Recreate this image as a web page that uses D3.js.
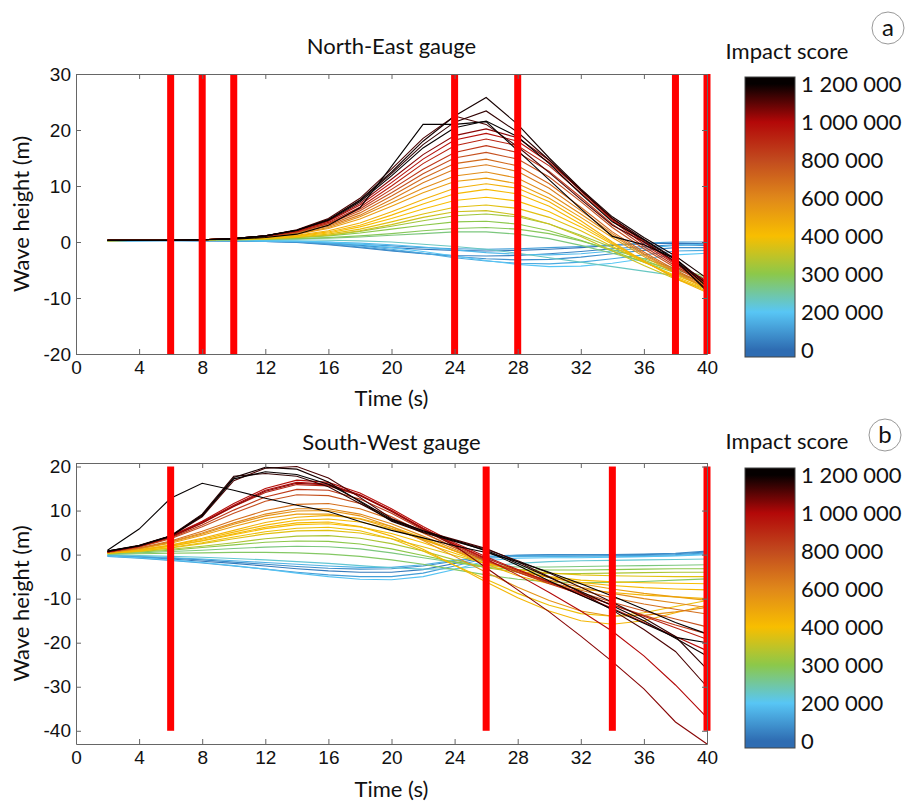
<!DOCTYPE html>
<html>
<head>
<meta charset="utf-8">
<script src="https://cdn.jsdelivr.net/npm/d3@7"></script>
<style>
  body { margin: 0; background: #fff; }
  svg { font-family: Lato, "Open Sans", sans-serif; }
  .axis path, .axis line { stroke: #666; }
  .axis text { fill: #111; font-size: 19px; }
</style>
</head>
<body>
<div id="chart"></div>
<script>
// time samples (s) shared by every simulated run
var times = [2,4,6,8,10,12,14,16,18,20,22,24,26,28,30,32,34,36,38,40];
var xTicks = [0,4,8,12,16,20,24,28,32,36,40];

// North-East gauge
var neTicks = [-20,-10,0,10,20,30];
var neRedBars = [6,8,10,24,28,38,40];
var neScores = [20000,50000,80000,110000,140000,170000,200000,230000,
                270000,290000,300000,320000,360000,380000,400000,420000,450000,
                520000,580000,640000,700000,780000,860000,920000,980000,1050000,
                1120000,1150000,1180000,1200000,1200000];
var neSeries = [
  [0.3,0.3,0.3,0.3,0.2,0.1,0,-0.3,-0.6,-1,-1.3,-1.5,-1.6,-1.5,-1.3,-1,-0.6,-0.3,-0.2,-0.3],
  [0.2,0.3,0.3,0.2,0.2,0.1,-0.1,-0.5,-1,-1.6,-2.1,-2.4,-2.5,-2.4,-2.1,-1.7,-1.2,-0.8,-0.5,-0.6],
  [0.4,0.4,0.4,0.4,0.3,0.2,0,-0.4,-0.9,-1.5,-2,-2.6,-3,-3.2,-3.1,-2.7,-2.1,-1.5,-1,-1],
  [0.1,0.2,0.2,0.2,0.2,0.1,0,-0.2,-0.4,-0.7,-1,-1.2,-1.3,-1.2,-1,-0.8,-0.5,-0.2,0,0],
  [0.3,0.3,0.4,0.4,0.3,0.2,0.1,-0.2,-0.7,-1.3,-2,-2.8,-3.4,-3.8,-3.9,-3.6,-3,-2.3,-1.6,-1.5],
  [0.2,0.2,0.3,0.3,0.2,0.2,0.1,0,-0.2,-0.5,-0.9,-1.4,-1.9,-2.2,-2.3,-2.1,-1.6,-1.1,-0.6,-0.4],
  [0.2,0.3,0.3,0.3,0.3,0.2,0.2,0,-0.4,-1,-1.7,-2.5,-3.3,-4,-4.4,-4.3,-3.8,-3,-2.3,-2],
  [0.3,0.3,0.3,0.4,0.4,0.4,0.4,0.3,0.2,0,-0.4,-0.8,-1.3,-2,-2.8,-3.6,-4.4,-5.2,-6,-6.8],
  [0.3,0.3,0.4,0.4,0.4,0.5,0.6,0.7,0.9,1.2,1.5,1.8,1.8,1.4,0.6,-0.6,-2,-3.5,-5,-6.5],
  [0.3,0.3,0.3,0.3,0.4,0.5,0.6,0.8,1.1,1.5,2,2.4,2.6,2.3,1.5,0.2,-1.4,-3,-4.7,-6.2],
  [0.3,0.3,0.3,0.4,0.5,0.6,0.8,1.1,1.6,2.3,3,3.6,3.7,3.2,2,0.3,-1.6,-3.6,-5.5,-7.2],
  [0.2,0.3,0.3,0.4,0.5,0.6,0.8,1.2,1.9,2.8,3.8,4.7,5,4.5,3.2,1.2,-1,-3.2,-5.3,-7.5],
  [0.3,0.3,0.3,0.4,0.4,0.5,0.8,1.2,2,3.1,4.4,5.4,5.6,4.8,3.2,1,-1.6,-4.2,-6.6,-8.5],
  [0.3,0.3,0.3,0.4,0.5,0.6,0.9,1.4,2.3,3.6,5,6.2,6.6,6,4.4,2,-0.8,-3.6,-6,-8],
  [0.3,0.3,0.3,0.4,0.5,0.7,1,1.6,2.7,4.2,5.9,7.4,8,7.3,5.4,2.7,-0.4,-3.5,-6.2,-8.4],
  [0.2,0.3,0.3,0.4,0.5,0.7,1.1,1.8,3,4.8,6.8,8.6,9.4,8.6,6.4,3.2,-0.2,-3.5,-6.4,-8.8],
  [0.3,0.3,0.3,0.4,0.6,0.8,1.2,2,3.4,5.4,7.6,9.6,10.4,9.6,7.2,3.8,0,-3.4,-6.5,-9],
  [0.3,0.3,0.3,0.4,0.6,0.9,1.4,2.4,4.1,6.4,8.8,10.8,11.4,10.4,7.8,4.4,0.8,-2.6,-5.6,-8.4],
  [0.3,0.3,0.3,0.4,0.6,0.9,1.5,2.6,4.5,7,9.6,11.8,12.5,11.4,8.6,5,1.2,-2.3,-5.4,-8.2],
  [0.3,0.3,0.3,0.4,0.6,1,1.6,2.8,4.8,7.6,10.6,13,13.8,12.6,9.6,5.6,1.5,-2.1,-5.2,-8],
  [0.3,0.3,0.3,0.4,0.6,1,1.7,3,5.2,8.2,11.4,14,14.8,13.6,10.4,6.2,1.8,-1.8,-5,-7.8],
  [0.3,0.3,0.3,0.4,0.6,1,1.8,3.2,5.6,8.8,12.2,15,16,14.8,11.6,7.2,2.6,-1.2,-4.6,-7.6],
  [0.3,0.3,0.3,0.4,0.6,1,1.8,3.3,5.9,9.4,13,16,17.2,16,12.6,8,3.2,-0.8,-4.3,-7.5],
  [0.3,0.3,0.3,0.4,0.6,1,1.9,3.5,6.2,10,14,17.2,18.4,17.2,13.6,8.8,3.8,-0.4,-4,-7.4],
  [0.3,0.3,0.3,0.4,0.6,1.1,2,3.7,6.6,10.6,14.8,18.2,19.4,18,14.2,9.2,4,0,-3.8,-7.2],
  [0.3,0.3,0.3,0.4,0.6,1.1,2,3.8,6.9,11.2,15.6,19,20.2,18.6,14.6,9.4,4.2,0.2,-3.6,-7],
  [0.3,0.3,0.3,0.4,0.6,1.1,2.2,4.2,7.8,13,18.5,22.5,21,17,12.4,7.6,3,0,-3.5,-8.5],
  [0.3,0.3,0.3,0.4,0.6,1.1,2.1,4,7.4,12.2,17.4,21.4,23.4,19.6,14.6,9.2,4.2,0.5,-3,-7.5],
  [0.3,0.3,0.3,0.4,0.6,1.1,2.1,4,7.5,12.5,18,22.5,25.8,21,15,9.5,4.5,0.8,-2.5,-6.5],
  [0.3,0.3,0.3,0.4,0.6,1.1,2.1,3.9,7.2,11.8,16.8,20.4,21.6,18.8,14,8.6,3.6,0.4,-3.2,-8.8],
  [0.3,0.3,0.3,0.4,0.5,0.8,1.4,3,6.1,13.5,21,21,21.5,16.3,11.1,5.9,1,-0.5,-3,-8]
];

// South-West gauge
var swTicks = [-40,-30,-20,-10,0,10,20];
var swRedBars = [6,26,34,40];
var swScores = [30000,70000,110000,150000,190000,220000,
                270000,285000,300000,330000,380000,390000,400000,420000,430000,440000,
                520000,560000,600000,680000,780000,850000,920000,980000,1000000,1050000,
                1120000,1150000,1180000,1200000,1200000];
var swSeries = [
  [-0.3,-0.6,-1,-1.5,-2,-2.6,-3.2,-3.7,-4,-4,-3.4,-2,-0.6,-0.2,-0.1,-0.1,0,0,0.2,0.6],
  [-0.2,-0.5,-0.8,-1.2,-1.7,-2.2,-2.7,-3.1,-3.3,-3.2,-2.6,-1.5,-0.4,-0.1,0,0,0,0.1,0.3,0.8],
  [-0.4,-0.8,-1.3,-1.9,-2.6,-3.3,-4,-4.6,-5,-5,-4.2,-2.6,-0.9,-0.4,-0.3,-0.3,-0.2,-0.2,0,0.4],
  [-0.1,-0.4,-0.7,-1,-1.4,-1.8,-2.2,-2.6,-2.9,-2.9,-2.3,-1.3,-0.5,-0.3,-0.4,-0.5,-0.5,-0.4,-0.2,0.2],
  [-0.3,-0.7,-1.2,-1.8,-2.5,-3.3,-4.2,-5,-5.6,-5.7,-5,-3.4,-1.4,-0.8,-0.7,-0.7,-0.6,-0.5,-0.3,0],
  [0,-0.2,-0.4,-0.6,-0.9,-1.2,-1.6,-2,-2.5,-3,-3.3,-3.2,-2.6,-2,-1.6,-1.4,-1.3,-1.2,-1.1,-1],
  [0.2,0.4,0.7,1,1.4,1.7,1.9,1.8,1.3,0.4,-0.7,-1.8,-2.5,-2.8,-2.8,-2.7,-2.6,-2.5,-2.4,-2.3],
  [0.1,0.2,0.3,0.4,0.5,0.5,0.4,0.1,-0.4,-1.2,-2.2,-3.4,-4.6,-5.6,-6.2,-6.4,-6.3,-6.1,-5.8,-5.5],
  [0.3,0.6,1,1.6,2.2,2.8,3.1,3,2.4,1.3,-0.2,-1.7,-2.9,-3.4,-3.5,-3.5,-3.4,-3.3,-3.2,-3.2],
  [0.3,0.7,1.2,1.9,2.7,3.6,4.2,4.3,3.7,2.5,0.8,-1.2,-3,-4,-4.3,-4.3,-4.2,-4.1,-4,-4],
  [0.3,0.8,1.5,2.5,3.6,4.7,5.4,5.5,4.9,3.6,1.8,-0.2,-2,-3.4,-4.2,-4.6,-4.8,-4.9,-5,-5],
  [0.3,0.8,1.6,2.7,4,5.2,6,6.2,5.4,3.6,0.8,-2.4,-5.6,-8.8,-11.5,-13.4,-14,-13.2,-11.8,-10.4],
  [0.4,1,1.9,3.1,4.5,5.9,6.8,7,6.3,4.8,2.7,0.3,-2,-3.8,-5,-5.8,-6.2,-6.4,-6.5,-6.6],
  [0.4,1.1,2.1,3.5,5.1,6.7,7.8,8.1,7.4,5.8,3.5,0.9,-1.6,-3.7,-5.2,-6.3,-7,-7.5,-7.8,-8],
  [0.4,1,1.9,3.2,4.7,6.2,7.2,7.4,6.4,4.2,1.2,-2.4,-6.2,-9.8,-12.8,-15,-15.8,-15,-13.2,-11.5],
  [0.4,1.1,2.2,3.7,5.5,7.3,8.5,8.9,8.2,6.4,3.8,0.8,-2.2,-4.8,-6.6,-7.8,-8.6,-9.2,-9.6,-10],
  [0.5,1.3,2.6,4.4,6.4,8.2,9.2,9.2,8.1,6,3.4,0.8,-1.6,-3.6,-5.2,-6.6,-7.8,-8.8,-9.6,-10.4],
  [0.5,1.4,2.8,4.7,6.9,8.8,9.9,10,8.8,6.4,3.2,-0.4,-4,-7.4,-10.4,-12.8,-14,-13.8,-13,-12],
  [0.5,1.4,2.9,4.9,7.2,9.2,10.4,10.4,9.2,7,4.2,1.2,-1.6,-3.9,-5.8,-7.4,-8.8,-10,-11,-12],
  [0.5,1.5,3.1,5.3,7.8,10,11.4,11.6,10.4,8,4.9,1.6,-1.4,-4,-6.2,-8.1,-9.8,-11.2,-12.4,-13.5],
  [0.6,1.7,3.6,6.3,9.4,12.1,13.6,13.4,11.6,8.6,5,1.6,-1.4,-4,-6.4,-8.6,-10.8,-12.8,-14.6,-16.4],
  [0.6,1.8,3.8,6.7,10.1,13.1,14.8,14.6,12.6,9.4,5.6,2,-1.2,-4,-6.6,-9,-11.4,-13.8,-16,-18],
  [0.6,1.9,4,7.2,10.9,14.1,15.9,15.6,13.4,10,6,2.4,-0.8,-3.6,-6.2,-8.8,-11.4,-14,-16.6,-19.2],
  [0.6,2,4.2,7.6,11.6,15,16.9,16.4,14,10.4,6.4,2.7,-0.5,-3.4,-6.2,-9.2,-12.2,-15.4,-18.6,-21.8],
  [0.6,1.9,4.1,7.4,11.2,14.6,16.4,16,13.6,10,6,2.3,-1,-4.6,-8.6,-12.8,-17.4,-23,-29.6,-37],
  [0.6,1.9,4,7.2,11,14.4,16.2,15.8,13.4,9.8,5.8,2,-3,-8,-13,-18.5,-24.3,-30.5,-38,-43],
  [0.7,2,4.1,8.6,16.8,19.6,20,17.4,13,8.2,5.4,3.4,1.4,-1.6,-5,-8.6,-12.6,-17,-22,-30],
  [0.8,2.1,4.3,9.2,17.8,18.4,17.8,15.4,11.6,7.8,5.2,3.2,1.2,-1.4,-4.2,-7.4,-10.8,-14.4,-18.6,-26],
  [0.8,2,4.2,9,17.5,19.8,19.4,16.5,12,7.6,5,3,1,-2,-5.2,-8.4,-11.6,-15,-19,-23],
  [0.8,2,4.2,8.8,17.2,18.8,18.2,16,12.2,8,5.4,3.2,0.8,-2.4,-6,-9.2,-12.4,-15.6,-18.8,-20],
  [1,5.8,12.8,16.2,14.6,12.8,11.2,9.8,7.5,5.5,3.8,2,0.5,-1.6,-4,-6.6,-9.4,-12.4,-15.4,-18]
];

// colour bar: labels are evenly spaced, colours are pinned to them
var cbValues = [0,200000,300000,400000,600000,800000,1000000,1200000];
var cbLabels = ["0","200 000","300 000","400 000","600 000","800 000","1 000 000","1 200 000"];
var cbColors = ["#2e6cb2","#58c6f5","#8cc84a","#f8be00","#e0881a","#c24a1e","#b30808","#050000"];

var W = 905, H = 803;
var svg = d3.select("#chart").append("svg").attr("width", W).attr("height", H);

var scoreToPos = d3.scaleLinear().domain(cbValues).range(d3.range(cbValues.length)).clamp(true);
var posToColor = d3.scaleLinear().domain(d3.range(cbColors.length)).range(cbColors).interpolate(d3.interpolateRgb);
function scoreColor(s) { return posToColor(scoreToPos(s)); }

var x0 = 76, x1 = 707;
var plainNum = function (d) { return String(d); }; // keep the hyphen minus of the original

function drawPanel(cfg) {
  var x = d3.scaleLinear().domain([0, 40]).range([x0, x1]);
  var y = d3.scaleLinear().domain(cfg.yDomain).range([cfg.bottom, cfg.top]);
  var g = svg.append("g");

  // lines, low scores first so black ends up on top
  var line = d3.line().x(function (d, i) { return x(times[i]); }).y(function (d) { return y(d); });
  g.selectAll(".run")
    .data(cfg.series)
    .enter().append("path")
    .attr("class", "run")
    .attr("d", line)
    .attr("fill", "none")
    .attr("stroke", function (d, i) { return scoreColor(cfg.scores[i]); })
    .attr("stroke-width", 1.1);

  // red markers
  g.selectAll(".mark")
    .data(cfg.bars)
    .enter().append("rect")
    .attr("x", function (d) { return x(d) - 3.5; })
    .attr("width", 7)
    .attr("y", y(cfg.barRange[1]))
    .attr("height", y(cfg.barRange[0]) - y(cfg.barRange[1]))
    .attr("fill", "#ff0000");

  // axes, MATLAB style ticks pointing inward
  g.append("g").attr("class", "axis")
    .attr("transform", "translate(0," + cfg.bottom + ")")
    .call(d3.axisBottom(x).tickValues(xTicks).tickFormat(plainNum).tickSizeInner(-5).tickSizeOuter(0).tickPadding(7));
  g.append("g").attr("class", "axis")
    .attr("transform", "translate(0," + cfg.top + ")")
    .call(d3.axisTop(x).tickValues(xTicks).tickSizeInner(-5).tickSizeOuter(0).tickFormat(""));
  g.append("g").attr("class", "axis")
    .attr("transform", "translate(" + x0 + ",0)")
    .call(d3.axisLeft(y).tickValues(cfg.ticks).tickFormat(plainNum).tickSizeInner(-5).tickSizeOuter(0).tickPadding(5));
  g.append("g").attr("class", "axis")
    .attr("transform", "translate(" + x1 + ",0)")
    .call(d3.axisRight(y).tickValues(cfg.ticks).tickSizeInner(-5).tickSizeOuter(0).tickFormat(""));

  g.append("text")
    .attr("x", (x0 + x1) / 2).attr("y", cfg.titleY)
    .attr("text-anchor", "middle").style("font-size", "22px").attr("fill", "#111")
    .text(cfg.title);
  g.append("text")
    .attr("x", (x0 + x1) / 2).attr("y", cfg.xLabelY)
    .attr("text-anchor", "middle").style("font-size", "22px").attr("fill", "#111")
    .text("Time (s)");
  g.append("text")
    .attr("transform", "translate(29," + (cfg.top + cfg.bottom) / 2 + ") rotate(-90)")
    .attr("text-anchor", "middle").style("font-size", "22px").attr("fill", "#111")
    .text("Wave height (m)");

  // colour bar
  var cb = cfg.cb;
  var gradId = "grad" + cfg.letter;
  var grad = svg.append("defs").append("linearGradient")
    .attr("id", gradId).attr("x1", 0).attr("y1", 1).attr("x2", 0).attr("y2", 0);
  var lpos = d3.scalePoint().domain(d3.range(cbLabels.length)).range([cb.bottom - 7, cb.top + 7]);
  cbColors.forEach(function (c, i) {
    grad.append("stop")
      .attr("offset", (cb.bottom - lpos(i)) / (cb.bottom - cb.top))
      .attr("stop-color", c);
  });
  g.append("rect")
    .attr("x", 745).attr("y", cb.top).attr("width", 50).attr("height", cb.bottom - cb.top)
    .attr("fill", "url(#" + gradId + ")").attr("stroke", "#444").attr("stroke-width", 1);
  g.selectAll(".cblab")
    .data(cbLabels)
    .enter().append("text")
    .attr("x", 801)
    .attr("y", function (d, i) { return lpos(i); })
    .attr("dy", "0.35em")
    .style("font-size", "22px").attr("fill", "#111")
    .text(function (d) { return d; });
  g.append("text")
    .attr("x", 787).attr("y", cb.titleY)
    .attr("text-anchor", "middle").style("font-size", "22px").attr("fill", "#111")
    .text("Impact score");

  // panel letter
  g.append("circle")
    .attr("cx", cfg.letterX).attr("cy", cfg.letterY).attr("r", 16)
    .attr("fill", "#fff").attr("stroke", "#999").attr("stroke-width", 1);
  g.append("text")
    .attr("x", cfg.letterX).attr("y", cfg.letterY).attr("dy", "0.33em")
    .attr("text-anchor", "middle").style("font-size", "24px").attr("fill", "#111")
    .text(cfg.letter);
}

drawPanel({
  title: "North-East gauge", letter: "a", letterX: 888, letterY: 28,
  top: 74, bottom: 354, yDomain: [-20, 30], ticks: neTicks,
  series: neSeries, scores: neScores, bars: neRedBars, barRange: [-20, 30],
  titleY: 54, xLabelY: 406,
  cb: { top: 77, bottom: 357, titleY: 59 }
});

drawPanel({
  title: "South-West gauge", letter: "b", letterX: 885, letterY: 435,
  top: 463, bottom: 744, yDomain: [-43, 20.8], ticks: swTicks,
  series: swSeries, scores: swScores, bars: swRedBars, barRange: [-40, 20],
  titleY: 450, xLabelY: 797,
  cb: { top: 468, bottom: 748, titleY: 449 }
});
</script>
</body>
</html>
